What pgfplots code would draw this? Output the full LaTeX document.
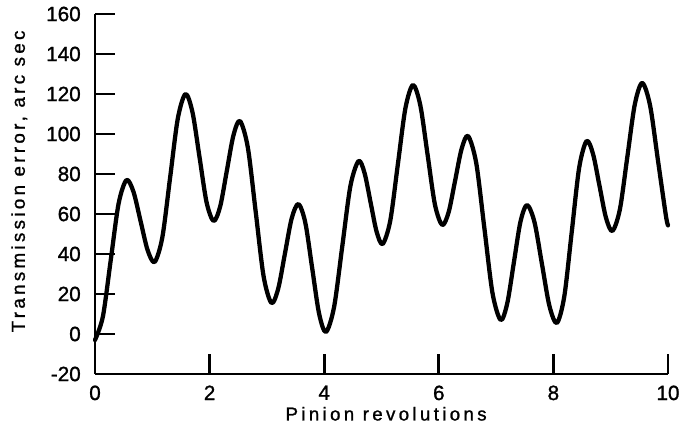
\documentclass[border=0pt]{standalone}
\usepackage{fontspec}
\setmainfont[FakeBold=1.2]{Liberation Sans}
\newfontfamily\labelfont[LetterSpace=18,FakeBold=1.2]{Liberation Sans}
\usepackage{pgfplots}
\usepackage{pgfplotstable}
\pgfplotsset{compat=1.18}
\pgfplotstableread{
x y
0.00 -3
0.1375 8.7
0.275 37
0.4125 65.3
0.55 77
0.6725 71.0
0.795 56.5
0.9175 42.0
1.04 36
1.175 48.3
1.31 78
1.445 107.7
1.58 120
1.7025 110.7
1.825 88.25
1.9475 65.8
2.07 56.5
2.185 63.8
2.30 81.5
2.415 99.2
2.53 106.5
2.6675 93.2
2.805 61
2.9425 28.8
3.08 15.5
3.1975 22.7
3.315 40.25
3.4325 57.8
3.55 65
3.67 55.7
3.79 33
3.91 10.3
4.03 1
4.1725 13.5
4.315 43.75
4.4575 74.0
4.60 86.5
4.705 80.4
4.81 65.75
4.915 51.1
5.02 45
5.1525 56.6
5.285 84.75
5.4175 112.9
5.55 124.5
5.6775 114.3
5.805 89.5
5.9325 64.7
6.06 54.5
6.1725 61.0
6.285 76.75
6.3975 92.5
6.51 99
6.6525 85.6
6.795 53
6.9375 20.4
7.08 7
7.195 15.4
7.31 35.75
7.425 56.1
7.54 64.5
7.67 55.9
7.80 35
7.93 14.1
8.06 5.5
8.19 18.8
8.32 51
8.45 83.2
8.58 96.5
8.6925 89.9
8.805 74
8.9175 58.1
9.03 51.5
9.16 62.3
9.29 88.5
9.42 114.7
9.55 125.5
9.6875 114.2
9.825 86.75
9.9625 59.3
10.00 54.3
}\curve
\begin{document}
\begin{tikzpicture}
\begin{axis}[
  scale only axis,
  width=429.75pt, height=270pt,
  xmin=0, xmax=10, ymin=-20, ymax=160,
  axis x line=bottom, axis y line=left,
  axis line style={-, line width=2.2pt},
  tick align=inside,
  major tick length=15pt,
  every tick/.style={black, line width=2pt},
  xtick={0,2,4,6,8,10},
  ytick={-20,0,20,...,160},
  /pgf/number format/assume math mode=true,
  tick label style={font=\fontsize{15.5pt}{18pt}\selectfont},
  yticklabel style={inner sep=0pt, xshift=-10.5pt},
  xticklabel style={inner sep=0pt, yshift=-8.5pt},
  xlabel={Pinion revolutions},
  ylabel={Transmission error, arc sec},
  label style={font=\labelfont\fontsize{14pt}{16pt}\selectfont, inner sep=0pt},
  xlabel style={at={(rel axis cs:0.508,0)}, anchor=north, yshift=-24.5pt},
  ylabel style={at={(rel axis cs:0,0.535)}, anchor=north, yshift=63pt},
  clip=false,
]
\coordinate (O) at (rel axis cs:0,0);
\addplot[black, line width=3.2pt, smooth, line join=round, line cap=round] table[x=x,y=y] {\curve};
\end{axis}
\path (O) ++(-71.25pt,-45pt) rectangle ++(510.75pt,325.5pt);
\end{tikzpicture}
\end{document}
